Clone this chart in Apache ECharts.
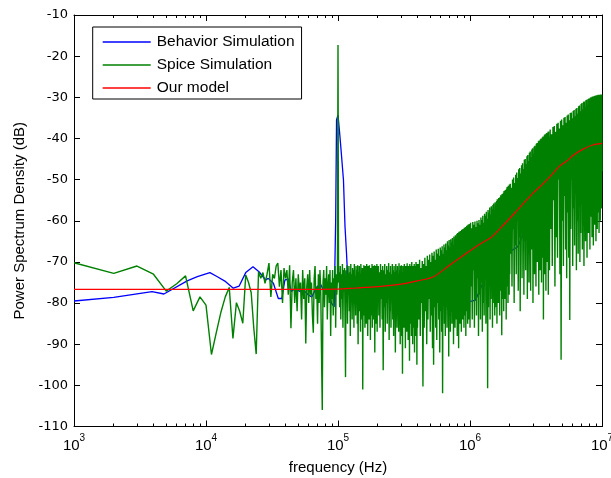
<!DOCTYPE html>
<html><head><meta charset="utf-8">
<script src="https://cdn.jsdelivr.net/npm/echarts@6/dist/echarts.min.js"></script>
<style>html,body{margin:0;padding:0;background:#fff}#c{width:611px;height:478px}</style>
</head><body><div id="c"></div>
<script>
// ---- data (frequency in kHz, PSD in dB) ----
const majorTicks = [1e3, 1e4, 1e5, 1e6, 1e7];
const minorTicks = [2e3,3e3,4e3,5e3,6e3,7e3,8e3,9e3, 2e4,3e4,4e4,5e4,6e4,7e4,8e4,9e4,
                    2e5,3e5,4e5,5e5,6e5,7e5,8e5,9e5, 2e6,3e6,4e6,5e6,6e6,7e6,8e6,9e6];
const seriesNames = ['Behavior Simulation', 'Spice Simulation', 'Our model'];

const behavior = [[1,-79.5],[2,-78.6],[3.9,-77.2],[4.8,-77.8],[7.2,-74.6],[8.6,-73.6],[10.7,-72.6],[12.2,-73.6],
[14.1,-74.8],[16.1,-76.4],[17.8,-75.9],[20,-72.6],[22.7,-71.2],[25.2,-72.4],[28.3,-74.4],[29.6,-74.0],[32.4,-75.2],
[35.3,-78.9],[37.5,-78.9],[39.6,-74.4],[42.1,-74.2],[44.3,-77.2],[47,-76.5],[51.5,-77.2],[54.6,-76.8],[59.5,-78.0],
[63.3,-78.5],[68,-76.5],[73.1,-75.2],[78,-77],[82.1,-76.0],[86,-78],[89.5,-80.1],[93.5,-80.9],[96,-60],[97.5,-35.5],
[100,-34.3],[102.5,-38],[105,-42],[110,-50.1],[113,-61.4],[116,-67.9],[118.6,-74.4],[127,-75.2],[140,-76.5],
[155,-73.6],[165,-77],[175,-73.6],[190,-76],[214,-78.5],[227,-73.6],[250,-75],[280,-77],[320,-75],[370,-76.4],
[450,-78],[550,-76],[650,-80],[750,-82.5],[900,-80],[1100,-79.3],[1300,-74],[1600,-70.8],[1900,-68],[2300,-66.3],
[2800,-60],[3600,-53],[4400,-48],[5500,-47],[7000,-45],[7900,-42],[10000,-41.5]];

const spiceLow = [[1,-70.2],[2,-72.8],[3,-71.0],[4,-73.0],[5,-77.1],[6,-75.3],[7,-73.4],[8,-81.9],[9,-78.5],[10,-80.5],
[11,-92.5],[12,-87.0],[13,-82.1],[14,-78.5],[15,-76.2],[16,-88.6],[17,-79.9],[18,-82.0],[19,-84.9],[20,-73.2],
[21,-75.0],[22,-77.5],[23,-86.0],[24,-92.4],[25,-72.4],[26,-74.0],[27,-72.6],[28,-75.2],[29,-73.0],[30,-70.3],
[31,-78.5],[32,-73],[33,-74],[34,-71],[35,-70.3],[36,-76],[37,-72],[38,-80],[39,-71.5],[40,-74],[41,-72],[42,-78],
[43,-70.8],[44,-86.1],[45,-75],[46,-72],[47,-80],[48,-74],[49,-82],[50,-73],[51,-77],[52,-75],[53,-84],[54,-72],
[55,-79],[56,-74],[57,-89.8],[58,-76],[59,-73],[60,-80],[61,-72],[62,-78],[63,-75],[64,-83],[65,-87.2],[66,-74],
[67,-71],[68,-79],[69,-76],[70,-85],[71,-73],[72,-80],[73,-72],[74,-77],[75,-92],[76,-106],[77,-75],[78,-72],
[79,-81],[80,-74],[81,-78],[82,-71],[83,-84],[84,-76],[85,-73],[86,-80],[87,-72],[88,-88],[89,-75],[90,-79],
[91,-72],[92,-83],[93,-74],[94,-77],[95,-71],[96,-86],[97,-73],[98,-78],[99,-74],[100,-17.3],[101,-75]];

const spice100k = [[102,-72.5],[103,-81],[104,-71],[105,-84],[106,-73],[107,-79],[108,-70.5],[109,-86],[110,-72],[111,-77],
[112,-71.5],[113,-83],[114,-98],[115,-72],[116,-80],[117,-70.8],[118,-85],[119,-73],[120,-78],[121,-71],
[122,-82],[123,-72.5],[124,-88],[125,-70.5],[126,-79],[127,-73],[128,-84],[129,-71.5],[130,-77],[131,-72],
[132,-86],[133,-70.5],[134,-80],[135,-73.5],[136,-83],[137,-71],[138,-78],[139,-72],[140,-85],[141,-70.8],
[142,-90],[143,-72.5],[144,-79],[145,-71],[146,-82],[147,-73],[148,-87],[149,-70.5],[150,-80],[151,-72],
[152,-84],[153,-71.5],[154,-101],[155,-72],[156,-78],[157,-70.8],[158,-83],[159,-73],[160,-86],[161,-71],
[162,-79],[163,-72.5],[164,-85],[165,-70.5],[166,-81],[167,-72],[168,-88],[169,-71],[170,-77],[171,-73],
[172,-84],[173,-70.8],[174,-80],[175,-72],[176,-89],[177,-71.5],[178,-79],[179,-73],[180,-83],[181,-70.5],
[182,-86],[183,-72],[184,-78],[185,-71],[186,-84],[187,-72.5],[188,-81],[189,-70.8],[190,-92],[191,-72],
[192,-79],[193,-71],[194,-85],[195,-73],[196,-80],[197,-70.5],[198,-87],[199,-72],[200,-78]];

const spice200k = [[202,-71],[204,-83],[206,-72.5],[208,-86],[210,-70.5],[212,-79],[214,-72],[216,-84],[218,-71],[220,-96.3],
[222,-72],[224,-81],[226,-70.5],[228,-87],[230,-73],[232,-80],[234,-71],[236,-85],[238,-72],[240,-78],
[242,-70.3],[244,-89],[246,-72.5],[248,-82],[250,-71],[252,-86],[254,-73],[256,-79],[258,-70.5],[260,-84],
[262,-72],[264,-88],[266,-71],[268,-80],[270,-72.5],[272,-92],[274,-70.5],[276,-83],[278,-72],[280,-86],
[282,-71],[284,-79],[286,-73],[288,-87],[290,-70.3],[292,-82],[294,-72],[296,-90],[298,-71],[300,-84],
[302,-70.8],[304,-88],[306,-72.5],[308,-97.2],[310,-71],[312,-81],[314,-72],[316,-86],[318,-70.5],[320,-83],
[322,-72],[324,-91],[326,-71],[328,-80],[330,-73],[332,-87],[334,-70.3],[336,-84],[338,-72],[340,-89],
[342,-71],[344,-82],[346,-72.5],[348,-94],[350,-70.5],[352,-85],[354,-72],[356,-80],[358,-71],[360,-88],
[362,-70],[364,-83],[366,-72],[368,-90],[370,-71],[372,-86],[374,-72.5],[376,-81],[378,-70.5],[380,-92],
[382,-72],[384,-84],[386,-71],[388,-88],[390,-70],[392,-82],[394,-72],[396,-95],[398,-70.5],[400,-86]];

const spice400k = [[405,-70.5],[410,-84],[415,-69.5],[420,-88],[425,-71.5],[430,-80],[435,-69.8],[440,-100.3],[445,-70.5],[450,-86],
[455,-69],[460,-82],[465,-71],[470,-90],[475,-68.5],[480,-84],[485,-69.5],[490,-79],[495,-68.2],[500,-87],
[505,-70],[510,-83],[515,-67.8],[520,-91],[525,-68.5],[530,-95],[535,-67.5],[540,-81],[545,-69.5],[550,-86],
[555,-67],[560,-89],[565,-68],[570,-80],[575,-66.8],[580,-84],[585,-68.5],[590,-92],[595,-66.5],[600,-82],
[605,-67.2],[610,-87],[615,-66.2],[620,-101.9],[625,-68],[630,-79],[635,-65.8],[640,-85],[645,-66.5],[650,-88],
[655,-65.5],[660,-81],[665,-67.2],[670,-86],[675,-65],[680,-78],[685,-66],[690,-93],[695,-64.7],[700,-83],
[705,-66.5],[710,-87],[715,-64.5],[720,-80],[725,-65.2],[730,-85],[735,-64.2],[740,-78],[745,-66],[750,-90],
[755,-63.8],[760,-82],[765,-64.5],[770,-86],[775,-63.5],[780,-77],[785,-65.2],[790,-84],[795,-63.2],[800,-88],
[805,-63],[810,-79],[815,-64.8],[820,-91],[825,-62.7],[830,-81],[835,-63.5],[840,-85],[845,-62.5],[850,-77],
[855,-64],[860,-87],[865,-62.2],[870,-80],[875,-63],[880,-84],[885,-62],[890,-76],[895,-63.6],[900,-86],
[905,-61.7],[910,-79],[915,-62.3],[920,-83],[925,-61.5],[930,-88],[935,-63],[940,-77],[945,-61.2],[950,-82],
[955,-61.8],[960,-85],[965,-61],[970,-78],[975,-62.5],[980,-84],[985,-60.8],[990,-80],[995,-61.2],[1000,-86]];

const spice1M = [[1010,-60.5],[1020,-76],[1030,-61.8],[1040,-84],[1050,-60.3],[1060,-72],[1070,-61],[1080,-86],[1090,-60.2],[1100,-79],
[1110,-61.5],[1120,-83],[1130,-60],[1140,-74],[1150,-60.6],[1160,-88],[1170,-59.8],[1180,-78],[1190,-61],[1200,-84],
[1210,-59.2],[1220,-75],[1230,-59.8],[1240,-87],[1250,-58.8],[1260,-80],[1270,-60.5],[1280,-83],[1290,-58.3],[1300,-73],
[1310,-58.8],[1320,-85],[1330,-57.8],[1340,-78],[1350,-59.5],[1360,-100.7],[1370,-57.4],[1380,-81],[1390,-58],[1400,-75],
[1410,-56.8],[1420,-84],[1430,-58.5],[1440,-79],[1450,-56.5],[1460,-72],[1470,-57.2],[1480,-86],[1490,-56.2],[1500,-80],
[1510,-55.8],[1520,-76],[1530,-57.5],[1540,-83],[1550,-55.5],[1560,-71],[1570,-56.2],[1580,-81],[1590,-55.2],[1600,-85],
[1610,-54.8],[1620,-74],[1630,-56.5],[1640,-80],[1650,-54.5],[1660,-70],[1670,-55.2],[1680,-83],[1690,-54.2],[1700,-77],
[1710,-53.8],[1720,-72],[1730,-55.5],[1740,-87.8],[1750,-53.5],[1760,-79],[1770,-54.2],[1780,-68],[1790,-53.2],[1800,-82],
[1810,-52.8],[1820,-74],[1830,-54.5],[1840,-79],[1850,-52.5],[1860,-67],[1870,-53.2],[1880,-84],[1890,-52.2],[1900,-76],
[1910,-51.8],[1920,-71],[1930,-53.5],[1940,-80],[1950,-51.5],[1960,-66],[1970,-52.2],[1980,-78],[1990,-51.2],[2000,-73]];

const spice2M = [[2020,-51],[2040,-68],[2060,-52],[2080,-76],[2100,-50],[2120,-62],[2140,-49.5],[2160,-80],[2180,-50.8],[2200,-66],
[2220,-48.8],[2240,-73],[2260,-48.3],[2280,-58],[2300,-49.6],[2320,-77],[2340,-47.5],[2360,-64],[2380,-47.2],[2400,-82],
[2420,-48.5],[2440,-61],[2460,-46.5],[2480,-74],[2500,-46],[2520,-56],[2540,-47.4],[2560,-78],[2580,-45.2],[2600,-65],
[2620,-45],[2640,-72],[2660,-46.3],[2680,-59],[2700,-44.3],[2720,-79],[2740,-44],[2760,-63],[2780,-45.5],[2800,-75],
[2820,-43.5],[2840,-55],[2860,-43.2],[2880,-77],[2900,-44.6],[2920,-67],[2940,-42.7],[2960,-60],[2980,-42.4],[3000,-80],
[3020,-43.8],[3040,-64],[3060,-42],[3080,-73],[3100,-41.8],[3120,-53],[3140,-43.2],[3160,-76],[3180,-41.3],[3200,-62],
[3220,-41.1],[3240,-70],[3260,-42.6],[3280,-57],[3300,-40.7],[3320,-78],[3340,-40.5],[3360,-65],[3380,-41.9],[3400,-72],
[3420,-40.2],[3440,-51],[3460,-40],[3480,-75],[3500,-41.4],[3520,-61],[3540,-39.7],[3560,-69],[3580,-39.5],[3600,-84],
[3620,-40.9],[3640,-58],[3660,-39.2],[3680,-73],[3700,-39],[3720,-64],[3740,-40.4],[3760,-77],[3780,-38.8],[3800,-54],
[3820,-38.7],[3840,-70],[3860,-40],[3880,-60],[3900,-38.4],[3920,-78],[3940,-38.3],[3960,-66],[3980,-39.6],[4000,-72]];

const spice4M = [[4050,-37.8],[4100,-62],[4150,-39],[4200,-71],[4250,-37.2],[4300,-55],[4350,-37],[4400,-76],[4450,-38.4],[4500,-64],
[4550,-36.4],[4600,-69],[4650,-36.2],[4700,-50],[4750,-37.6],[4800,-73],[4850,-35.7],[4900,-93.8],[4950,-35.4],[5000,-60],
[5050,-36.8],[5100,-71],[5150,-35],[5200,-54],[5250,-34.8],[5300,-67],[5350,-36.2],[5400,-74],[5450,-34.4],[5500,-58],
[5550,-34.2],[5600,-69],[5650,-35.6],[5700,-84.1],[5750,-33.8],[5800,-62],[5850,-33.7],[5900,-50],[5950,-35.1],[6000,-71],
[6050,-33.3],[6100,-57],[6150,-33.1],[6200,-66],[6250,-34.6],[6300,-47],[6350,-32.8],[6400,-72],[6450,-32.6],[6500,-60],
[6550,-34],[6600,-68],[6650,-32.2],[6700,-53],[6750,-32],[6800,-70],[6850,-33.4],[6900,-63],[6950,-31.6],[7000,-45],
[7050,-31.4],[7100,-67],[7150,-32.9],[7200,-58],[7250,-31.1],[7300,-71],[7350,-31],[7400,-51],[7450,-32.4],[7500,-65],
[7550,-30.7],[7600,-42],[7650,-30.6],[7700,-69],[7750,-32],[7800,-56],[7850,-30.4],[7900,-63],[7950,-30.3],[8000,-48],
[8050,-31.6],[8100,-67],[8150,-30.1],[8200,-59],[8250,-30],[8300,-44],[8350,-31.3],[8400,-64],[8450,-29.8],[8500,-53],
[8550,-29.8],[8600,-66],[8650,-31],[8700,-40],[8750,-29.7],[8800,-61],[8850,-29.6],[8900,-55],[8950,-30.8],[9000,-65],
[9050,-29.5],[9100,-47],[9150,-29.5],[9200,-62],[9250,-30.7],[9300,-36],[9350,-29.4],[9400,-58],[9450,-29.4],[9500,-63],
[9550,-30.6],[9600,-50],[9650,-29.4],[9700,-60],[9750,-29.3],[9800,-42],[9850,-30.5],[9900,-57],[9950,-29.3],[10000,-48]];

const model = [[1,-76.7],[50,-76.7],[100,-76.6],[130,-76.4],[160,-76.2],[220,-75.9],[300,-75.4],[400,-74.6],
[530,-73.6],[700,-70.8],[940,-67.9],[1200,-65.6],[1450,-64.0],[1700,-61.8],[2200,-58.0],[3000,-53.3],[3600,-50.9],
[4050,-49.2],[4750,-46.8],[5400,-45.5],[6100,-44.0],[7200,-42.6],[8500,-41.6],[10000,-41.2]];

// ---- chart ----
const toHz = arr => arr.map(p => [p[0] * 1000, p[1]]);
const spice = spiceLow.concat(spice100k, spice200k, spice400k, spice1M, spice2M, spice4M);
const F = '"Liberation Sans", Arial, Helvetica, sans-serif';
const chart = echarts.init(document.getElementById('c'), null, {renderer: 'canvas'});

function xAx(position, ticks, len, withLabels, withLine) {
  const a = {
    type: 'log', logBase: 10, min: 1000, max: 1e7, position: position,
    axisLine: {show: withLine, onZero: false, lineStyle: {color: '#000', width: 1}},
    axisTick: {show: true, inside: true, length: len, customValues: ticks, lineStyle: {color: '#000', width: 1}},
    axisLabel: {show: false},
    splitLine: {show: false}, minorTick: {show: false}
  };
  if (withLabels) {
    a.axisLabel = {
      show: true, customValues: majorTicks, margin: 12, color: '#000',
      formatter: v => '{b|10}{e|' + Math.round(Math.log10(v)) + '}',
      rich: {
        b: {fontFamily: F, fontSize: 15, color: '#000', lineHeight: 15, verticalAlign: 'bottom'},
        e: {fontFamily: F, fontSize: 10, color: '#000', lineHeight: 10, padding: [0, 0, 10, 0], verticalAlign: 'bottom'}
      }
    };
    a.name = 'frequency (Hz)';
    a.nameLocation = 'middle';
    a.nameGap = 34;
    a.nameTextStyle = {fontFamily: F, fontSize: 15, color: '#000'};
  }
  return a;
}

const option = {
  animation: false,
  backgroundColor: '#fff',
  grid: {left: 74, right: 9, top: 15, bottom: 51.5, show: false, containLabel: false, outerBoundsMode: 'none'},
  xAxis: [
    xAx('bottom', majorTicks, 6, true, true),
    xAx('bottom', minorTicks, 3, false, false),
    xAx('top', majorTicks, 6, false, true),
    xAx('top', minorTicks, 3, false, false)
  ],
  yAxis: [
    {type: 'value', min: -110, max: -10, interval: 10, position: 'left',
     axisLine: {show: true, onZero: false, lineStyle: {color: '#000', width: 1}},
     axisTick: {show: true, inside: true, length: 6, lineStyle: {color: '#000'}},
     axisLabel: {margin: 6, fontFamily: '"DejaVu Sans", sans-serif', fontSize: 13, color: '#000'},
     splitLine: {show: false},
     name: 'Power Spectrum Density (dB)', nameLocation: 'middle', nameGap: 46, nameRotate: 90,
     nameTextStyle: {fontFamily: F, fontSize: 15, color: '#000'}},
    {type: 'value', min: -110, max: -10, interval: 10, position: 'right',
     axisLine: {show: true, onZero: false, lineStyle: {color: '#000', width: 1}},
     axisTick: {show: true, inside: true, length: 6, lineStyle: {color: '#000'}},
     axisLabel: {show: false}, splitLine: {show: false}}
  ],
  legend: {
    orient: 'vertical', left: 92.7, top: 27, itemWidth: 48, itemHeight: 1.4, itemGap: 7, icon: 'rect',
    padding: [7, 7, 3, 10], backgroundColor: '#fff', borderColor: '#000', borderWidth: 1, borderRadius: 0,
    selectedMode: false, data: seriesNames,
    textStyle: {fontFamily: F, fontSize: 15.5, color: '#000', padding: [0, 0, 0, 1]}
  },
  series: [
    {name: seriesNames[0], type: 'line', data: toHz(behavior), symbol: 'none', silent: true, z: 2,
     lineStyle: {color: '#0000ff', width: 1.3}, itemStyle: {color: '#0000ff'}},
    {name: seriesNames[1], type: 'line', data: toHz(spice), symbol: 'none', silent: true, z: 3,
     lineStyle: {color: '#008000', width: 1.4}, itemStyle: {color: '#008000'}},
    {name: seriesNames[2], type: 'line', data: toHz(model), symbol: 'none', silent: true, z: 4, smooth: 0.3,
     lineStyle: {color: '#ff0000', width: 1.2}, itemStyle: {color: '#ff0000'}}
  ]
};
chart.setOption(option);
</script>
</body></html>
